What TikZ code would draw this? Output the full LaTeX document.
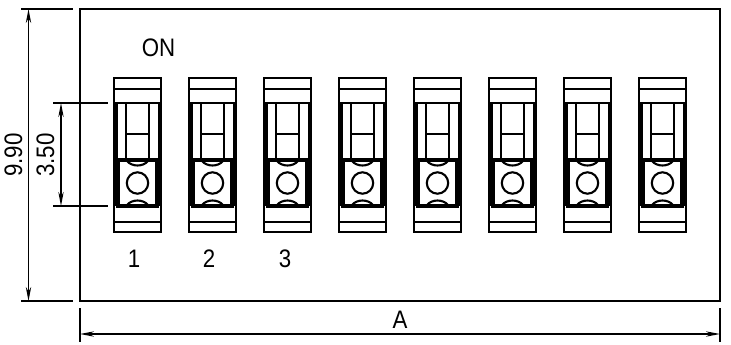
\documentclass[tikz,border=0pt]{standalone}
\usepackage{fontspec}
\setmainfont[FakeStretch=0.88]{Liberation Sans}
\usetikzlibrary{arrows.meta}

\begin{document}
\begin{tikzpicture}[
    x=0.025cm, y=-0.025cm,
    outline/.style={line width=1.4pt},
    thinline/.style={line width=1.5pt},
    thickline/.style={line width=2.2pt},
    dimline/.style={{Stealth[length=10pt,width=3.8pt]}-{Stealth[length=10pt,width=3.8pt]}, line width=1pt},
    extline/.style={line width=1.1pt},
    label/.style={font=\fontsize{18}{18}\selectfont, inner sep=0pt}
]
\useasboundingbox (0,0) rectangle (731,344);

% Housing
\draw[outline] (80,9) rectangle (720,301);

% Switches
\foreach \n in {0,...,7} {
    \begin{scope}[xshift={\n*75*0.025cm}]
    \draw[outline] (114,78) rectangle (161,232);
    \draw[thinline] (114,89) -- (161,89);
    \draw[thinline] (114,103) -- (161,103);
    \draw[thinline] (114,222) -- (161,222);
    \draw[thickline] (116,103) -- (116,206);
    \draw[thickline] (159.5,103) -- (159.5,206);
    \draw[thinline] (126,103) -- (126,159);
    \draw[thinline] (149,103) -- (149,159);
    \draw[thinline] (126,134) -- (149,134);
    % Slider
    \draw[thickline] (118,160) rectangle (157,206);
    \draw[thinline] (127,161) .. controls (132,167) and (143,167) .. (148,161);
    \draw[thinline] (127,205) .. controls (132,199) and (143,199) .. (148,205);
    \draw[thinline] (137.5,183) circle (10.7);
    \end{scope}
}

% Labels
\node[label] (on) at (158.5,48) {ON};
\node[label] (one) at (134,259) {1};
\node[label] (two) at (209,259) {2};
\node[label] (three) at (285,259) {3};

% Height
\coordinate (htop) at (28.5,9);
\coordinate (hbot) at (28.5,301);
\draw[extline] (21,9) -- (73,9);
\draw[extline] (21,301) -- (73,301);
\draw[dimline] (htop) -- (hbot);
\node[label, rotate=90] (height) at (13.5,155) {9.90};

% Pitch
\coordinate (ptop) at (61,103);
\coordinate (pbot) at (61,206);
\draw[extline] (53,103) -- (108,103);
\draw[extline] (53,206) -- (108,206);
\draw[dimline] (ptop) -- (pbot);
\node[label, rotate=90] (pitch) at (45.5,155) {3.50};

% Width
\coordinate (wleft) at (80,334);
\coordinate (wright) at (720,334);
\draw[extline] (80,308) -- (80,342);
\draw[extline] (720,308) -- (720,342);
\draw[dimline] (wleft) -- (wright);
\node[label] (width) at (400,320) {A};

\end{tikzpicture}
\end{document}
